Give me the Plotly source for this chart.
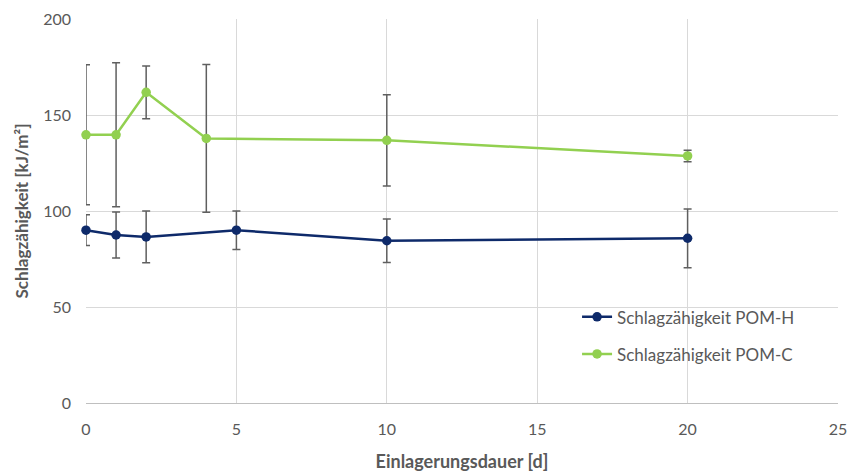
import plotly.graph_objects as go

# Storage time in days
days_h = [0, 1, 2, 5, 10, 20]
days_c = [0, 1, 2, 4, 10, 20]

# Impact strength (kJ/m²) and standard deviation
pom_h = [90.0, 87.5, 86.5, 90.0, 84.5, 85.8]
pom_h_err = [8.0, 12.0, 13.5, 10.0, 11.3, 15.3]

pom_c = [139.7, 139.7, 161.8, 137.8, 136.8, 128.7]
pom_c_err = [36.5, 37.5, 13.7, 38.5, 23.8, 3.0]

name_h = "Schlagzähigkeit POM-H"
name_c = "Schlagzähigkeit POM-C"

x_ticks = [0, 5, 10, 15, 20, 25]
y_ticks = [0, 50, 100, 150, 200]

text_grey = "#595959"
grid_grey = "#d9d9d9"
err_grey = "#5f5f5f"
navy = "#0e2a6a"
green = "#92d050"

fig = go.Figure()

fig.add_trace(go.Scatter(
    x=days_h, y=pom_h, name=name_h, mode="lines+markers",
    line=dict(color=navy, width=2.5),
    marker=dict(color=navy, size=9.5),
    error_y=dict(type="data", array=pom_h_err, visible=True,
                 color=err_grey, thickness=1.5, width=4),
    cliponaxis=False, legendgroup="h",
))

fig.add_trace(go.Scatter(
    x=days_c, y=pom_c, name=name_c, mode="lines+markers",
    line=dict(color=green, width=2.5),
    marker=dict(color=green, size=9.5),
    error_y=dict(type="data", array=pom_c_err, visible=True,
                 color=err_grey, thickness=1.5, width=4),
    cliponaxis=False, legendgroup="c",
))

fig.update_layout(
    width=850, height=472,
    margin=dict(l=86, r=12, t=19, b=69),
    paper_bgcolor="white", plot_bgcolor="white",
    font=dict(family="Lato, Open Sans, sans-serif", color=text_grey, size=16),
    showlegend=True,
    legend=dict(
        x=0.653, y=0.27, xanchor="left", yanchor="top",
        bgcolor="rgba(0,0,0,0)", font=dict(size=17, color=text_grey),
        tracegroupgap=12, traceorder="grouped",
    ),
    xaxis=dict(
        range=[0, 25], tickvals=x_ticks, showgrid=True, gridcolor=grid_grey,
        gridwidth=1, zeroline=False, showline=True, linecolor="#bfbfbf",
        ticks="", tickfont=dict(size=16, color=text_grey), ticklabelstandoff=12,
        automargin=False,
        title=dict(text="<b>Einlagerungsdauer [d]</b>",
                   font=dict(size=18, color=text_grey), standoff=20),
    ),
    yaxis=dict(
        range=[0, 200], tickvals=y_ticks, showgrid=True, gridcolor=grid_grey,
        gridwidth=1, zeroline=False, showline=False, automargin=False,
        ticks="", tickfont=dict(size=16, color=text_grey), ticklabelstandoff=14,
        title=dict(text="<b>Schlagzähigkeit [kJ/m²]</b>",
                   font=dict(size=17, color=text_grey), standoff=10),
    ),
)

fig.write_html("out.html")
